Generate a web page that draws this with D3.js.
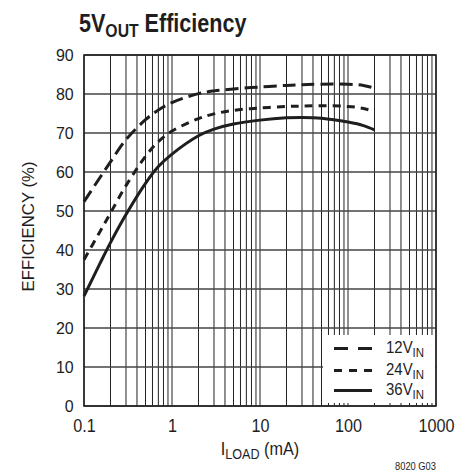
<!DOCTYPE html>
<html>
<head>
<meta charset="utf-8">
<script src="https://cdn.jsdelivr.net/npm/d3@7"></script>
<style>
  body { margin: 0; background: #fff; }
  svg { display: block; }
</style>
</head>
<body>
<script>

// Load current (mA) and efficiency (%)
const loadCurrents = [0.1, 0.15, 0.2, 0.3, 0.5, 0.7, 1, 2, 3, 5, 10, 20, 30, 50, 100, 150, 200];
const eff12 = [52.4, 58.4, 62.6, 68.3, 73.4, 75.9, 77.8, 80.1, 80.8, 81.3, 81.8, 82.2, 82.4, 82.5, 82.5, 82.2, 81.5];
const eff24 = [37.5, 44.5, 49.5, 56.5, 64, 67.8, 70.5, 73.7, 74.9, 75.8, 76.4, 76.8, 76.9, 77, 76.8, 76.3, 75.5];
const eff36 = [28.2, 36.3, 41.9, 49.1, 57.1, 61.4, 64.6, 69.3, 71, 72.3, 73.3, 73.9, 74, 73.8, 72.8, 71.9, 70.8];

const seriesNames = ["12V", "24V", "36V"];
const xTickValues = [0.1, 1, 10, 100, 1000];
const yTickValues = [0, 10, 20, 30, 40, 50, 60, 70, 80, 90];

const width = 469;
const height = 471;
const marginLeft = 84;
const marginRight = 33;
const marginTop = 55;
const marginBottom = 65;

const font = "'Liberation Sans', Arial, sans-serif";
const ink = "#1e1e1e";

// squeeze text horizontally around x0 (the reference uses a condensed face)
function condense(sel, x0, s) {
    sel.attr("transform", `translate(${x0},0) scale(${s},1) translate(${-x0},0)`);
}

const x = d3.scaleLog([0.1, 1000], [marginLeft, width - marginRight]);
const y = d3.scaleLinear([0, 90], [height - marginBottom, marginTop]);

const svg = d3.create("svg")
    .attr("width", width)
    .attr("height", height)
    .attr("viewBox", [0, 0, width, height]);

// Title
svg.append("text")
    .attr("x", 79)
    .attr("y", 32)
    .attr("font-family", font)
    .attr("font-weight", "bold")
    .attr("font-size", 26)
    .attr("fill", ink)
    .call(condense, 79, 0.83)
    .call(t => {
        t.append("tspan").text("5V");
        t.append("tspan").attr("font-size", 19).attr("dy", 5).text("OUT");
        t.append("tspan").attr("dy", -5).text(" Efficiency");
    });

// Vertical grid lines (every minor decade step)
const minorTicks = [];
[0.1, 1, 10, 100].forEach(dec => {
    for (let k = 1; k < 10; k++) minorTicks.push(dec * k);
});
minorTicks.push(1000);

svg.append("g")
    .selectAll("line")
    .data(minorTicks)
    .join("line")
    .attr("x1", d => x(d))
    .attr("x2", d => x(d))
    .attr("y1", y(90))
    .attr("y2", y(0))
    .attr("stroke", "#222")
    .attr("stroke-width", 1);

// Horizontal grid lines
svg.append("g")
    .selectAll("line")
    .data(yTickValues)
    .join("line")
    .attr("x1", marginLeft)
    .attr("x2", width - marginRight)
    .attr("y1", d => y(d))
    .attr("y2", d => y(d))
    .attr("stroke", "#444")
    .attr("stroke-width", 1.3);

// Legend box hides the grid underneath
const legLeft = 323;
const legTop = 335;
svg.append("rect")
    .attr("x", legLeft)
    .attr("y", legTop)
    .attr("width", width - marginRight - legLeft - 1)
    .attr("height", y(0) - legTop - 3)
    .attr("fill", "#fff");

// Frame
svg.append("rect")
    .attr("x", marginLeft)
    .attr("y", marginTop)
    .attr("width", width - marginLeft - marginRight)
    .attr("height", height - marginTop - marginBottom)
    .attr("fill", "none")
    .attr("stroke", ink)
    .attr("stroke-width", 1.5);

// Y axis labels
svg.append("g")
    .attr("transform", `translate(${marginLeft},0)`)
    .call(d3.axisLeft(y).tickValues(yTickValues).tickSize(0).tickPadding(11))
    .call(g => g.select(".domain").remove())
    .call(g => g.selectAll("text")
        .attr("font-family", font)
        .attr("font-size", 17)
        .attr("fill", ink)
        .attr("transform", "scale(0.94,1)"));

// X axis labels
svg.append("g")
    .attr("transform", `translate(0,${height - marginBottom})`)
    .call(d3.axisBottom(x).tickValues(xTickValues).tickFormat(d3.format("")).tickSize(0).tickPadding(13))
    .call(g => g.select(".domain").remove())
    .call(g => g.selectAll("text")
        .attr("font-family", font)
        .attr("font-size", 18)
        .attr("fill", ink)
        .attr("transform", "scale(0.9,1)"));

// Axis titles
svg.append("text")
    .attr("x", x(10))
    .attr("y", 455)
    .attr("text-anchor", "middle")
    .attr("font-family", font)
    .attr("font-size", 18)
    .attr("fill", ink)
    .call(condense, x(10), 0.9)
    .call(t => {
        t.append("tspan").text("I");
        t.append("tspan").attr("font-size", 14).attr("dy", 4).text("LOAD");
        t.append("tspan").attr("dy", -4).text(" (mA)");
    });

svg.append("text")
    .attr("transform", `translate(34,${(y(0) + y(90)) / 2 - 4}) rotate(-90)`)
    .attr("text-anchor", "middle")
    .attr("font-family", font)
    .attr("font-size", 17)
    .attr("fill", ink)
    .attr("textLength", 130)
    .attr("lengthAdjust", "spacingAndGlyphs")
    .text("EFFICIENCY (%)");

svg.append("text")
    .attr("x", 395)
    .attr("y", 470)
    .attr("font-family", font)
    .attr("font-size", 11)
    .attr("fill", ink)
    .attr("textLength", 41)
    .attr("lengthAdjust", "spacingAndGlyphs")
    .text("8020 G03");

// Curves
const dashes = ["13,6", "8,6", null];
const allSeries = [eff12, eff24, eff36];

const line = d3.line()
    .x((d, i) => x(loadCurrents[i]))
    .y(d => y(d))
    .curve(d3.curveCatmullRom);

allSeries.forEach((vals, i) => {
    svg.append("path")
        .attr("fill", "none")
        .attr("stroke", ink)
        .attr("stroke-width", 3)
        .attr("stroke-dasharray", dashes[i])
        .attr("d", line(vals));
});

// Legend
const legRows = [348.5, 370.5, 390.5];
seriesNames.forEach((name, i) => {
    svg.append("line")
        .attr("x1", 334)
        .attr("x2", 372)
        .attr("y1", legRows[i])
        .attr("y2", legRows[i])
        .attr("stroke", ink)
        .attr("stroke-width", 3)
        .attr("stroke-dasharray", i == 0 ? "14,10" : (i == 1 ? "8,7" : null));

    svg.append("text")
        .attr("x", 386)
        .attr("y", legRows[i] + 5)
        .attr("font-family", font)
        .attr("font-size", 17)
        .attr("fill", ink)
        .call(condense, 386, 0.88)
        .call(t => {
            t.append("tspan").text(name);
            t.append("tspan").attr("font-size", 13).attr("dy", 4).text("IN");
        });
});

document.body.appendChild(svg.node());
</script>
</body>
</html>
